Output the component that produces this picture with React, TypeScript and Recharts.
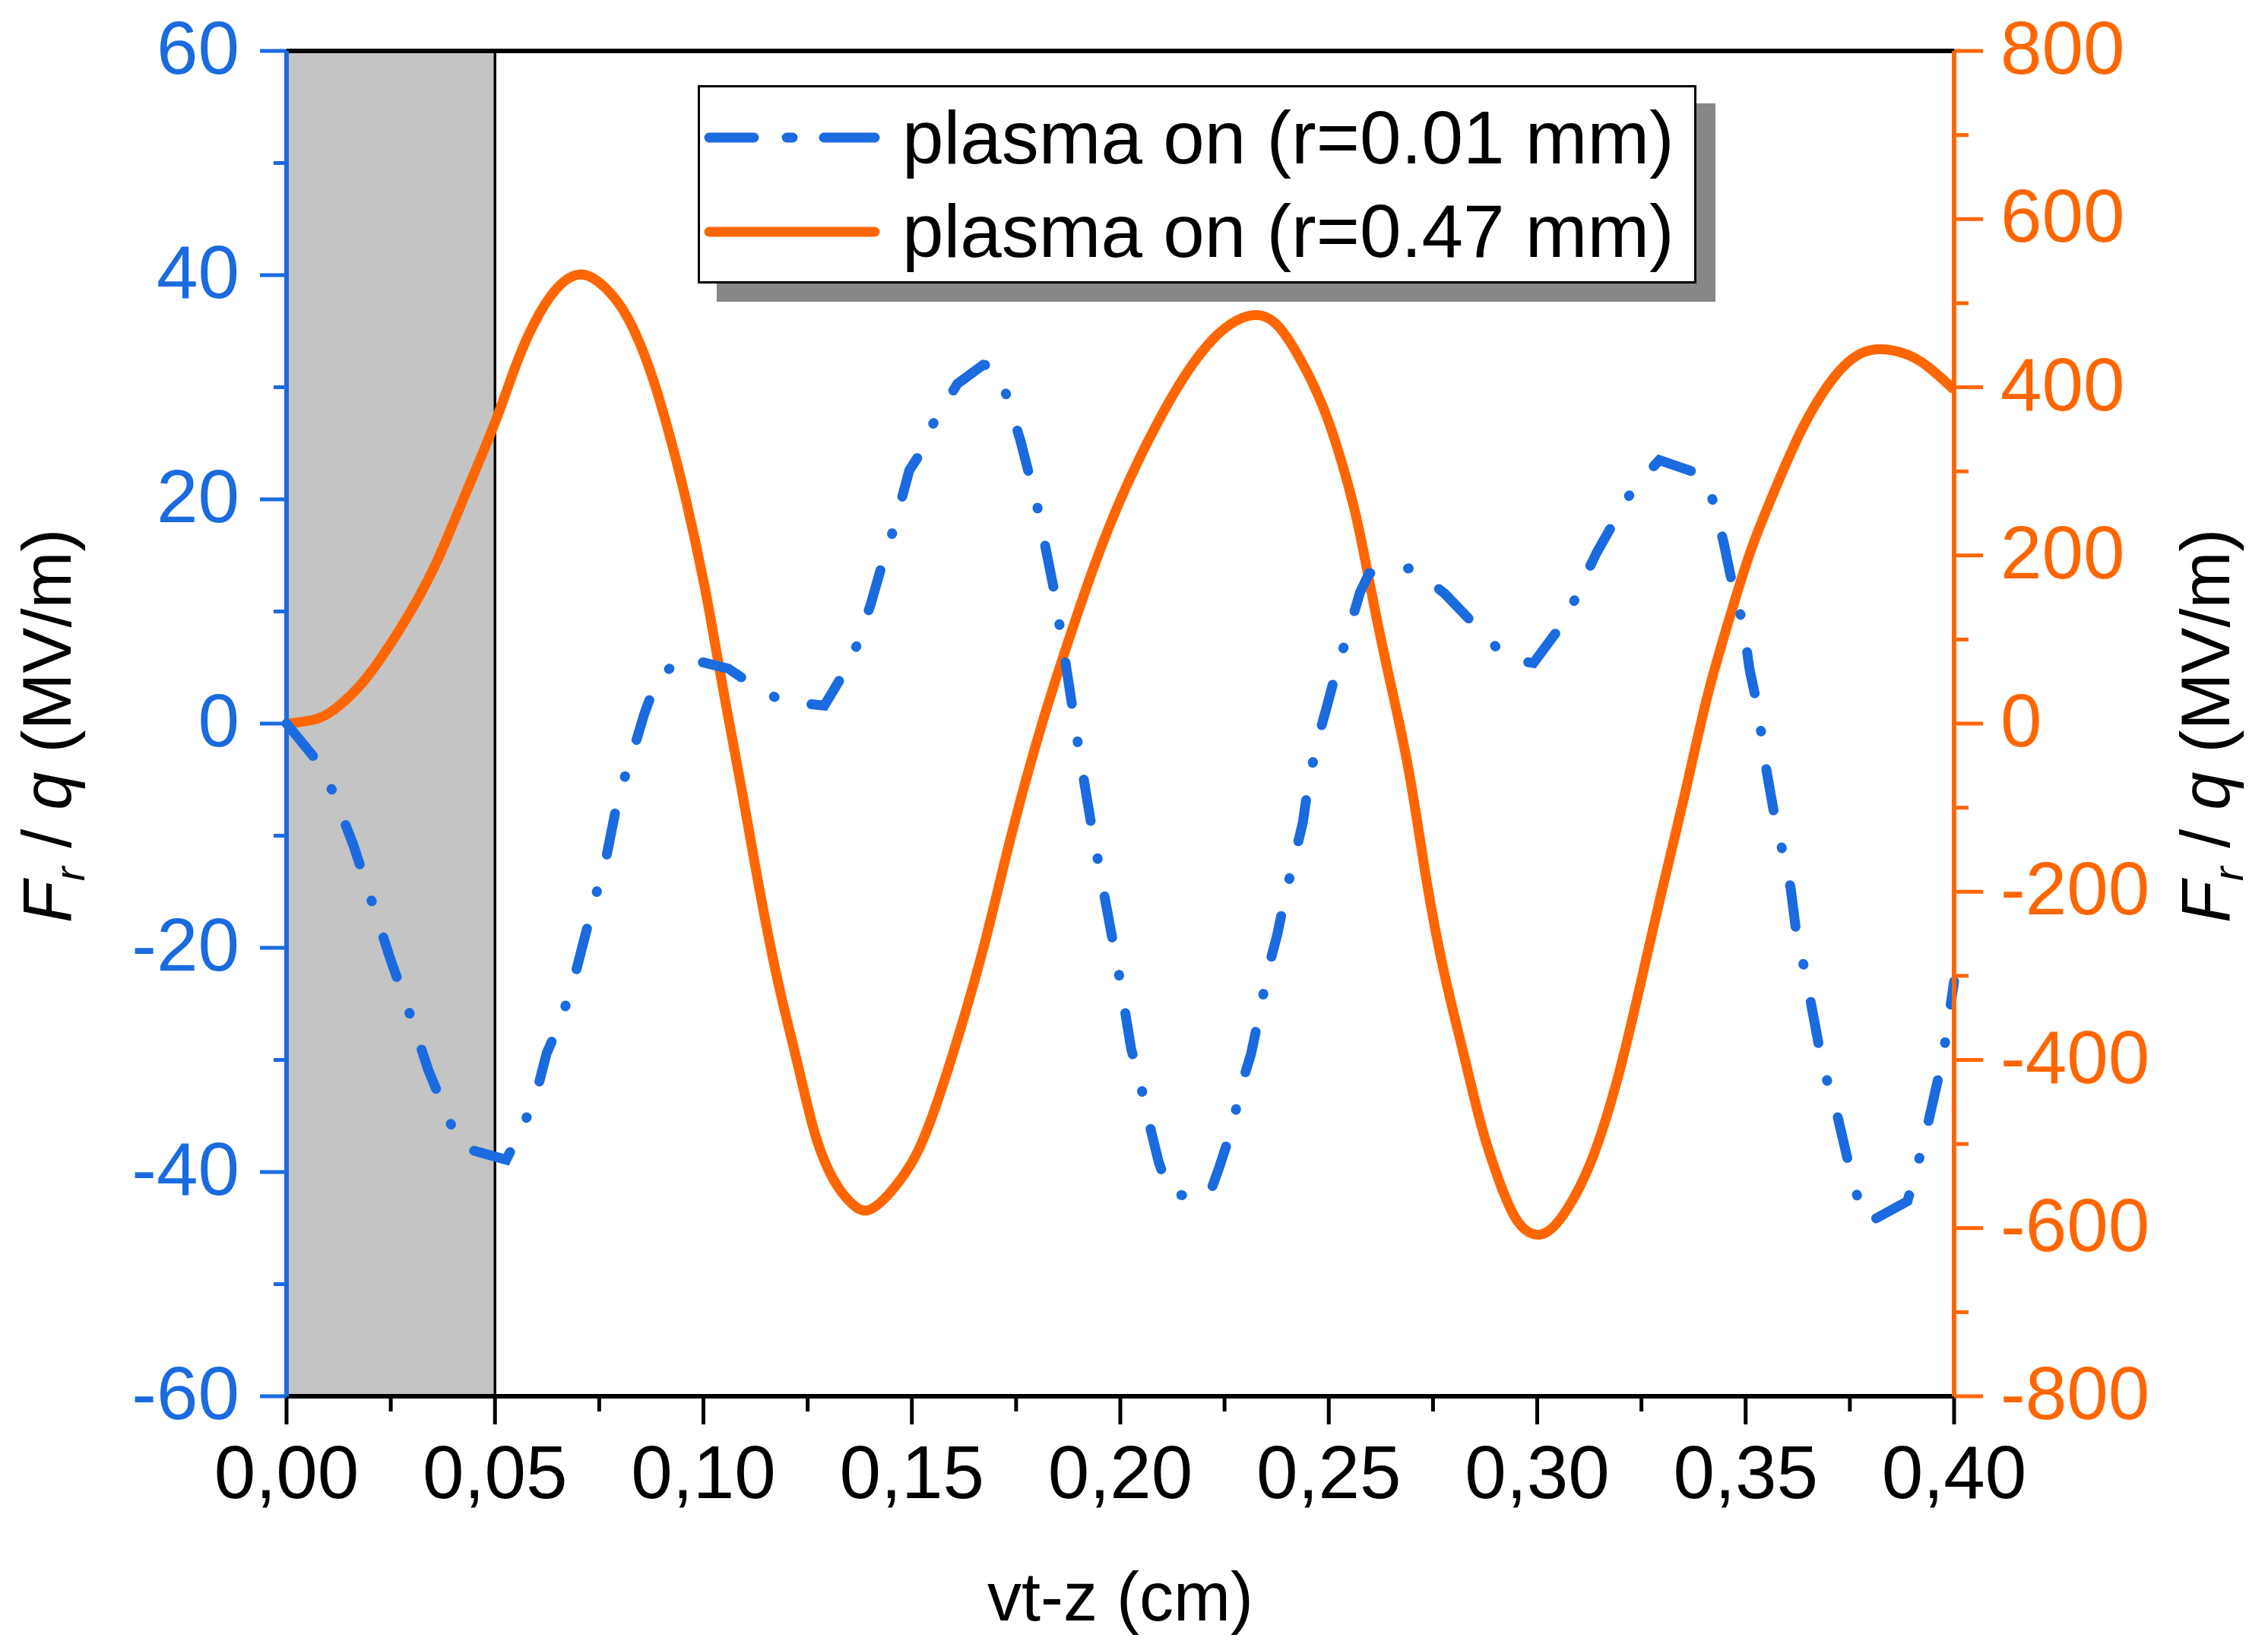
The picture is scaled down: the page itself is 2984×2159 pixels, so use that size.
import React from 'react';
import {
  LineChart,
  Line,
  XAxis,
  YAxis,
  ReferenceArea,
  ReferenceLine,
  Legend,
} from 'recharts';

// ---------- data ----------
const blueX = [
  0, 0.0075, 0.011, 0.016, 0.0204, 0.0248, 0.0292, 0.0341, 0.039, 0.042, 0.0527,
  0.0566, 0.0597, 0.0624, 0.066, 0.0695, 0.0735, 0.0765, 0.0796, 0.0827, 0.0858,
  0.0889, 0.0951, 0.106, 0.1128, 0.119, 0.129, 0.133, 0.1365, 0.1401, 0.1427,
  0.1454, 0.1494, 0.152, 0.1547, 0.1609, 0.1671, 0.1693, 0.1724, 0.176, 0.18,
  0.184, 0.187, 0.19, 0.1928, 0.1964, 0.1995, 0.2026, 0.2048, 0.2074, 0.2092,
  0.2119, 0.2212, 0.2238, 0.2265, 0.2292, 0.2314, 0.2336, 0.2354, 0.2376, 0.2398,
  0.242, 0.2438, 0.2451, 0.2473, 0.2496, 0.2518, 0.2544, 0.2575, 0.2597, 0.2703,
  0.2747, 0.2778, 0.2871, 0.292, 0.2938, 0.2991, 0.3071, 0.3102, 0.3142, 0.3195,
  0.3231, 0.3293, 0.3395, 0.3426, 0.3448, 0.347, 0.3493, 0.351, 0.3528, 0.355,
  0.3572, 0.359, 0.3608, 0.3621, 0.3644, 0.3675, 0.3697, 0.3719, 0.3746, 0.3768,
  0.3795, 0.3888, 0.3906, 0.3933, 0.3973, 0.4,
];
const blueY = [
  0, -3.4, -6.0, -10.8, -15.8, -20.9, -25.5, -31, -35.4, -37.8, -38.9,
  -36, -33.3, -29.4, -26.3, -22, -16.2, -12.3, -6.5, -3, 0.85,
  4, 5.9, 4.9, 3.2, 2.0, 1.6, 4.1, 6.7, 10.6, 14.0,
  17.1, 22.6, 24.1, 26.5, 30.3, 32.0, 31.9, 29.6, 25.3, 19.5,
  12.1, 5.1, -2.2, -8.5, -15.8, -22, -29, -32.1, -36.4, -39.1,
  -42.0, -42.2, -39.5, -36.4, -32.1, -29.4, -25.5, -22, -18.9, -15,
  -11.6, -8.8, -5.4, -1.5, 1.6, 4.7, 7.8, 11.7, 13.4, 13.9,
  12.5, 11.6, 8.0, 6.1, 5.7, 5.4, 9.4, 12.1, 15.2, 18.7,
  21, 23.5, 22.2, 19.5, 16, 12.1, 9.0, 4.7, 1.6, -4.2,
  -8.8, -11.6, -14.7, -18.5, -22.4, -28.6, -32.1, -34.8, -39.1, -42.2,
  -44.5, -42.6, -40.3, -36.4, -29.8, -23,
];

const orangeX = [
  0, 0.0075, 0.0128, 0.0181, 0.0235, 0.0296, 0.0358, 0.042, 0.05, 0.0553, 0.0606,
  0.0659, 0.0712, 0.0765, 0.0819, 0.0872, 0.0916, 0.096, 0.1004, 0.1031, 0.1062,
  0.1093, 0.1137, 0.1181, 0.1226, 0.127, 0.1314, 0.135, 0.1392, 0.1449, 0.1512, 0.1565,
  0.1618, 0.1671, 0.1715, 0.176, 0.1813, 0.1866, 0.1937, 0.2008, 0.2079, 0.215,
  0.223, 0.2309, 0.238, 0.2451, 0.2504, 0.2558, 0.2593, 0.2637, 0.269, 0.2734,
  0.2778, 0.2823, 0.2867, 0.2911, 0.2956, 0.3013, 0.3071, 0.3133, 0.3195, 0.3248,
  0.3301, 0.3355, 0.3408, 0.3461, 0.3514, 0.3576, 0.3638, 0.3709, 0.378, 0.3851,
  0.3922, 0.4,
];
const orangeY = [
  0, 6, 22, 48, 84, 132, 190, 262, 358, 430, 487,
  523, 534, 518, 482, 420, 348, 262, 160, 86, 1,
  -82, -204, -312, -405, -492, -544, -568, -579, -557, -511, -444,
  -361, -268, -180, -92, 1, 84, 187, 275, 348, 410,
  461, 485, 472, 415, 353, 262, 180, 73, -51, -185,
  -299, -392, -480, -547, -594, -607, -578, -516, -418, -309,
  -195, -82, 32, 125, 208, 285, 353, 410, 441, 444,
  430, 397,
];

// shaded region (x range) drawn behind the curves
const shadeX = [0, 0.05];

const xTicks = [0, 0.025, 0.05, 0.075, 0.1, 0.125, 0.15, 0.175, 0.2, 0.225, 0.25, 0.275, 0.3, 0.325, 0.35, 0.375, 0.4];
const leftTicks = [-60, -50, -40, -30, -20, -10, 0, 10, 20, 30, 40, 50, 60];
const rightTicks = [-800, -700, -600, -500, -400, -300, -200, -100, 0, 100, 200, 300, 400, 500, 600, 700, 800];

const seriesNames = ['plasma on (r=0.01 mm)', 'plasma on (r=0.47 mm)'];

const blueData = blueX.map((x, i) => ({ x, y: blueY[i] }));
const orangeData = orangeX.map((x, i) => ({ x, y: orangeY[i] }));

// ---------- style ----------
const BLUE = '#1a6bdf';
const ORANGE = '#ff6600';
const FONT = '"Liberation Sans", Arial, Helvetica, sans-serif';
const TICK_FS = 98;
const TITLE_FS = 90;
const AXIS_W = 6;

const W = 2984;
const H = 2159;

// small inset so the shaded area does not cover the axis lines
const INSET_X = 0.00055;
const INSET_Y = 0.2;

const LeftTick = (props: any) => {
  const { x, y, payload } = props;
  const v = payload.value;
  const major = Math.abs(Math.round(v)) % 20 === 0;
  return (
    <g>
      <line x1={x - (major ? 35 : 17)} x2={x} y1={y} y2={y} stroke={BLUE} strokeWidth={5} />
      {major && (
        <text x={x - 62} y={y + 30} textAnchor="end" fill={BLUE} fontSize={TICK_FS} fontFamily={FONT}>
          {String(v)}
        </text>
      )}
    </g>
  );
};

const RightTick = (props: any) => {
  const { x, y, payload } = props;
  const v = payload.value;
  const major = Math.abs(Math.round(v)) % 200 === 0;
  return (
    <g>
      <line x1={x} x2={x + (major ? 38 : 19)} y1={y} y2={y} stroke={ORANGE} strokeWidth={5} />
      {major && (
        <text x={x + 61} y={y + 30} textAnchor="start" fill={ORANGE} fontSize={TICK_FS} fontFamily={FONT}>
          {String(v)}
        </text>
      )}
    </g>
  );
};

const BottomTick = (props: any) => {
  const { x, y, payload } = props;
  const v = payload.value;
  const major = Math.round(v / 0.025) % 2 === 0;
  return (
    <g>
      <line x1={x} x2={x} y1={y} y2={y + (major ? 37 : 20)} stroke="#000" strokeWidth={5} />
      {major && (
        <text x={x} y={y + 134} textAnchor="middle" fill="#000" fontSize={TICK_FS} fontFamily={FONT}>
          {v.toFixed(2).replace('.', ',')}
        </text>
      )}
    </g>
  );
};

const TopTick = (props: any) => {
  const { x, y, payload } = props;
  const v = payload.value;
  const major = Math.round(v / 0.025) % 2 === 0;
  return <line x1={x} x2={x} y1={y} y2={y + (major ? 36 : 20)} stroke="#000" strokeWidth={5} />;
};

const YTitle = ({ cx, cy }: { cx: number; cy: number }) => (
  <text
    transform={`translate(${cx},${cy}) rotate(-90)`}
    textAnchor="middle"
    fill="#000"
    fontSize={TITLE_FS}
    fontFamily={FONT}
  >
    <tspan fontStyle="italic">F</tspan>
    <tspan fontStyle="italic" fontSize={56} dy={18}>r</tspan>
    <tspan dy={-18}> / </tspan>
    <tspan fontStyle="italic">q</tspan>
    <tspan> (MV/m)</tspan>
  </text>
);

const leftTitle = () => <YTitle cx={93} cy={955} />;
const rightTitle = () => <YTitle cx={2933} cy={955} />;
const xTitle = () => (
  <text x={1474} y={2132} textAnchor="middle" fill="#000" fontSize={TITLE_FS} fontFamily={FONT}>
    vt-z (cm)
  </text>
);

const LegendBox = () => {
  const bw = 1314;
  const bh = 261;
  return (
    <svg width={bw + 28} height={bh + 28} style={{ display: 'block', overflow: 'visible' }}>
      <rect x={25} y={24} width={bw} height={bh} fill="#878787" />
      <rect x={1.5} y={1.5} width={bw - 3} height={bh - 3} fill="#fff" stroke="#000" strokeWidth={3} />
      <line
        x1={15}
        x2={233}
        y1={69}
        y2={69}
        stroke={BLUE}
        strokeWidth={13}
        strokeLinecap="round"
        strokeDasharray="59 43 8 41 200"
      />
      <line x1={15} x2={233} y1={193} y2={193} stroke={ORANGE} strokeWidth={13} strokeLinecap="round" />
      <text x={269} y={103} fill="#000" fontSize={98} fontFamily={FONT}>
        {seriesNames[0]}
      </text>
      <text x={269} y={226} fill="#000" fontSize={98} fontFamily={FONT}>
        {seriesNames[1]}
      </text>
    </svg>
  );
};

export default function App() {
  return (
    <div style={{ position: 'absolute', left: 0, top: 0, width: W, height: H, background: '#fff' }}>
      <LineChart width={W} height={H} margin={{ top: 66, right: 0, bottom: 0, left: 0 }}>
        <XAxis
          xAxisId="bottom"
          type="number"
          dataKey="x"
          domain={[0, 0.4]}
          ticks={xTicks}
          interval={0}
          height={322}
          tickSize={0}
          tickMargin={0}
          tickLine={false}
          axisLine={{ stroke: '#000', strokeWidth: AXIS_W }}
          tick={<BottomTick />}
          label={xTitle}
        />
        <XAxis
          xAxisId="top"
          orientation="top"
          type="number"
          dataKey="x"
          domain={[0, 0.4]}
          ticks={xTicks}
          interval={0}
          height={1}
          tickSize={0}
          tickMargin={0}
          tickLine={false}
          axisLine={{ stroke: '#000', strokeWidth: AXIS_W }}
          tick={<TopTick />}
        />
        <YAxis
          yAxisId="left"
          type="number"
          domain={[-60, 60]}
          ticks={leftTicks}
          interval={0}
          width={377}
          tickSize={0}
          tickMargin={0}
          tickLine={false}
          axisLine={{ stroke: BLUE, strokeWidth: AXIS_W }}
          tick={<LeftTick />}
          label={leftTitle}
        />
        <YAxis
          yAxisId="right"
          orientation="right"
          type="number"
          domain={[-800, 800]}
          ticks={rightTicks}
          interval={0}
          width={413}
          tickSize={0}
          tickMargin={0}
          tickLine={false}
          axisLine={{ stroke: ORANGE, strokeWidth: AXIS_W }}
          tick={<RightTick />}
          label={rightTitle}
        />
        <ReferenceArea
          xAxisId="bottom"
          yAxisId="left"
          x1={shadeX[0] + INSET_X}
          x2={shadeX[1] - INSET_X / 2}
          y1={-60 + INSET_Y}
          y2={60 - INSET_Y}
          fill="#c4c4c4"
          fillOpacity={1}
          stroke="none"
        />
        <ReferenceLine xAxisId="bottom" yAxisId="left" x={shadeX[1]} stroke="#000" strokeWidth={3.5} />
        <Line
          xAxisId="bottom"
          yAxisId="right"
          data={orangeData}
          dataKey="y"
          type="natural"
          stroke={ORANGE}
          strokeWidth={13}
          dot={false}
          activeDot={false}
          isAnimationActive={false}
          name={seriesNames[1]}
        />
        <Line
          xAxisId="bottom"
          yAxisId="left"
          data={blueData}
          dataKey="y"
          type="linear"
          stroke={BLUE}
          strokeWidth={13}
          strokeLinecap="round"
          strokeDasharray="55 50 1 50"
          dot={false}
          activeDot={false}
          isAnimationActive={false}
          name={seriesNames[0]}
        />
        <Legend
          layout="horizontal"
          verticalAlign="middle"
          align="center"
          content={() => <LegendBox />}
          wrapperStyle={{ position: 'absolute', left: 918, top: 112, width: 1342, height: 289 }}
        />
      </LineChart>
    </div>
  );
}
